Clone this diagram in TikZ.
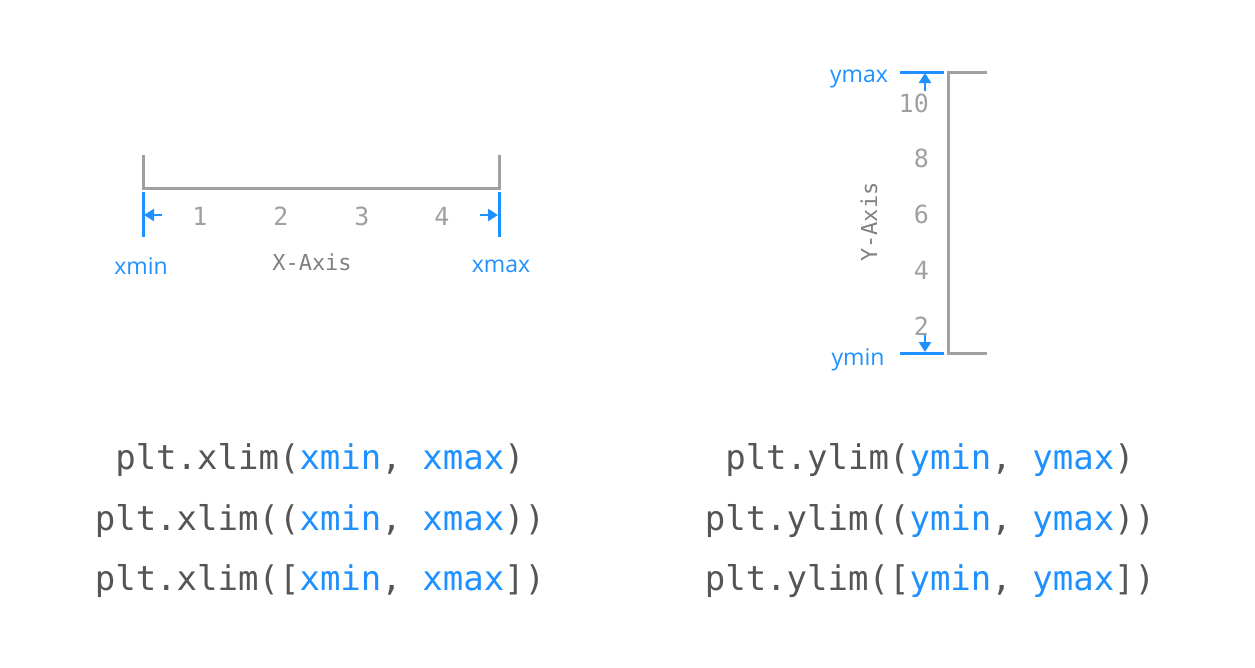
\documentclass[tikz,border=0pt]{standalone}
\usepackage{fontspec}
\setmainfont{Open Sans}
\setmonofont{DejaVu Sans Mono}
\usetikzlibrary{arrows.meta}
\definecolor{limblue}{HTML}{1E90FF}
\definecolor{axisgray}{HTML}{A0A0A0}
\definecolor{labelgray}{HTML}{808080}
\definecolor{codegray}{HTML}{555555}
\tikzset{
  axisline/.style={axisgray, line width=3pt},
  limline/.style={limblue, line width=3pt},
  limarrow/.style={limblue, line width=2.4pt, -{Triangle[length=10pt,width=12pt]}},
  ticklabel/.style={axisgray, font=\ttfamily\fontsize{25}{28}\selectfont, inner sep=0pt},
  limlabel/.style={limblue, font=\fontsize{23}{26}\selectfont, inner sep=0pt},
  axislabel/.style={labelgray, font=\ttfamily\fontsize{22}{26}\selectfont, inner sep=0pt},
  codeline/.style={codegray, font=\ttfamily\fontsize{34}{38}\selectfont, inner sep=0pt}
}
\newcommand{\limval}[1]{\textcolor{limblue}{#1}}
\begin{document}
\begin{tikzpicture}[x=1pt,y=-1pt]
    \useasboundingbox (0,0) rectangle (1255,667);
    % X-Achse
    \draw[axisline] (143,155) -- (143,188) -- (499,188) -- (499,155);
    \draw[limline] (143,192) -- (143,237);
    \draw[limline] (499,192) -- (499,237);
    \coordinate (xa1) at (162,215);
    \coordinate (xa2) at (144,215);
    \coordinate (xb1) at (480,215);
    \coordinate (xb2) at (498,215);
    \draw[limarrow] (xa1) -- (xa2);
    \draw[limarrow] (xb1) -- (xb2);
    \foreach \i/\x in {1/200,2/281,3/362,4/442}
        \node[ticklabel] (xt\i) at (\x,216) {\i};
    \node[limlabel] (xmin) at (141,266) {xmin};
    \node[limlabel] (xmax) at (501,266) {xmax};
    \node[axislabel] (xaxis) at (312,262) {X-Axis};

    % Y-Achse
    \draw[axisline] (987,72) -- (948,72) -- (948,353) -- (987,353);
    \draw[limline] (900,72) -- (944,72);
    \draw[limline] (900,353) -- (944,353);
    \coordinate (ya1) at (925,91);
    \coordinate (ya2) at (925,73);
    \coordinate (yb1) at (925,334);
    \coordinate (yb2) at (925,352);
    \draw[limarrow] (ya1) -- (ya2);
    \draw[limarrow] (yb1) -- (yb2);
    \foreach \v/\y in {10/103,8/158,6/214,4/270,2/326}
        \node[ticklabel, anchor=east] (yt\v) at (929,\y) {\v};
    \node[limlabel] (ymax) at (859,79) {ymax};
    \node[limlabel] (ymin) at (858,360) {ymin};
    \node[axislabel, rotate=90] (yaxis) at (869,222) {Y-Axis};

    % Aufrufe
    \node[codeline] (xl1) at (320,460) {plt.xlim(\limval{xmin}, \limval{xmax})};
    \node[codeline] (xl2) at (320,521) {plt.xlim((\limval{xmin}, \limval{xmax}))};
    \node[codeline] (xl3) at (320,581) {plt.xlim([\limval{xmin}, \limval{xmax}])};
    \node[codeline] (yl1) at (930,460) {plt.ylim(\limval{ymin}, \limval{ymax})};
    \node[codeline] (yl2) at (930,521) {plt.ylim((\limval{ymin}, \limval{ymax}))};
    \node[codeline] (yl3) at (930,581) {plt.ylim([\limval{ymin}, \limval{ymax}])};
\end{tikzpicture}
\end{document}
